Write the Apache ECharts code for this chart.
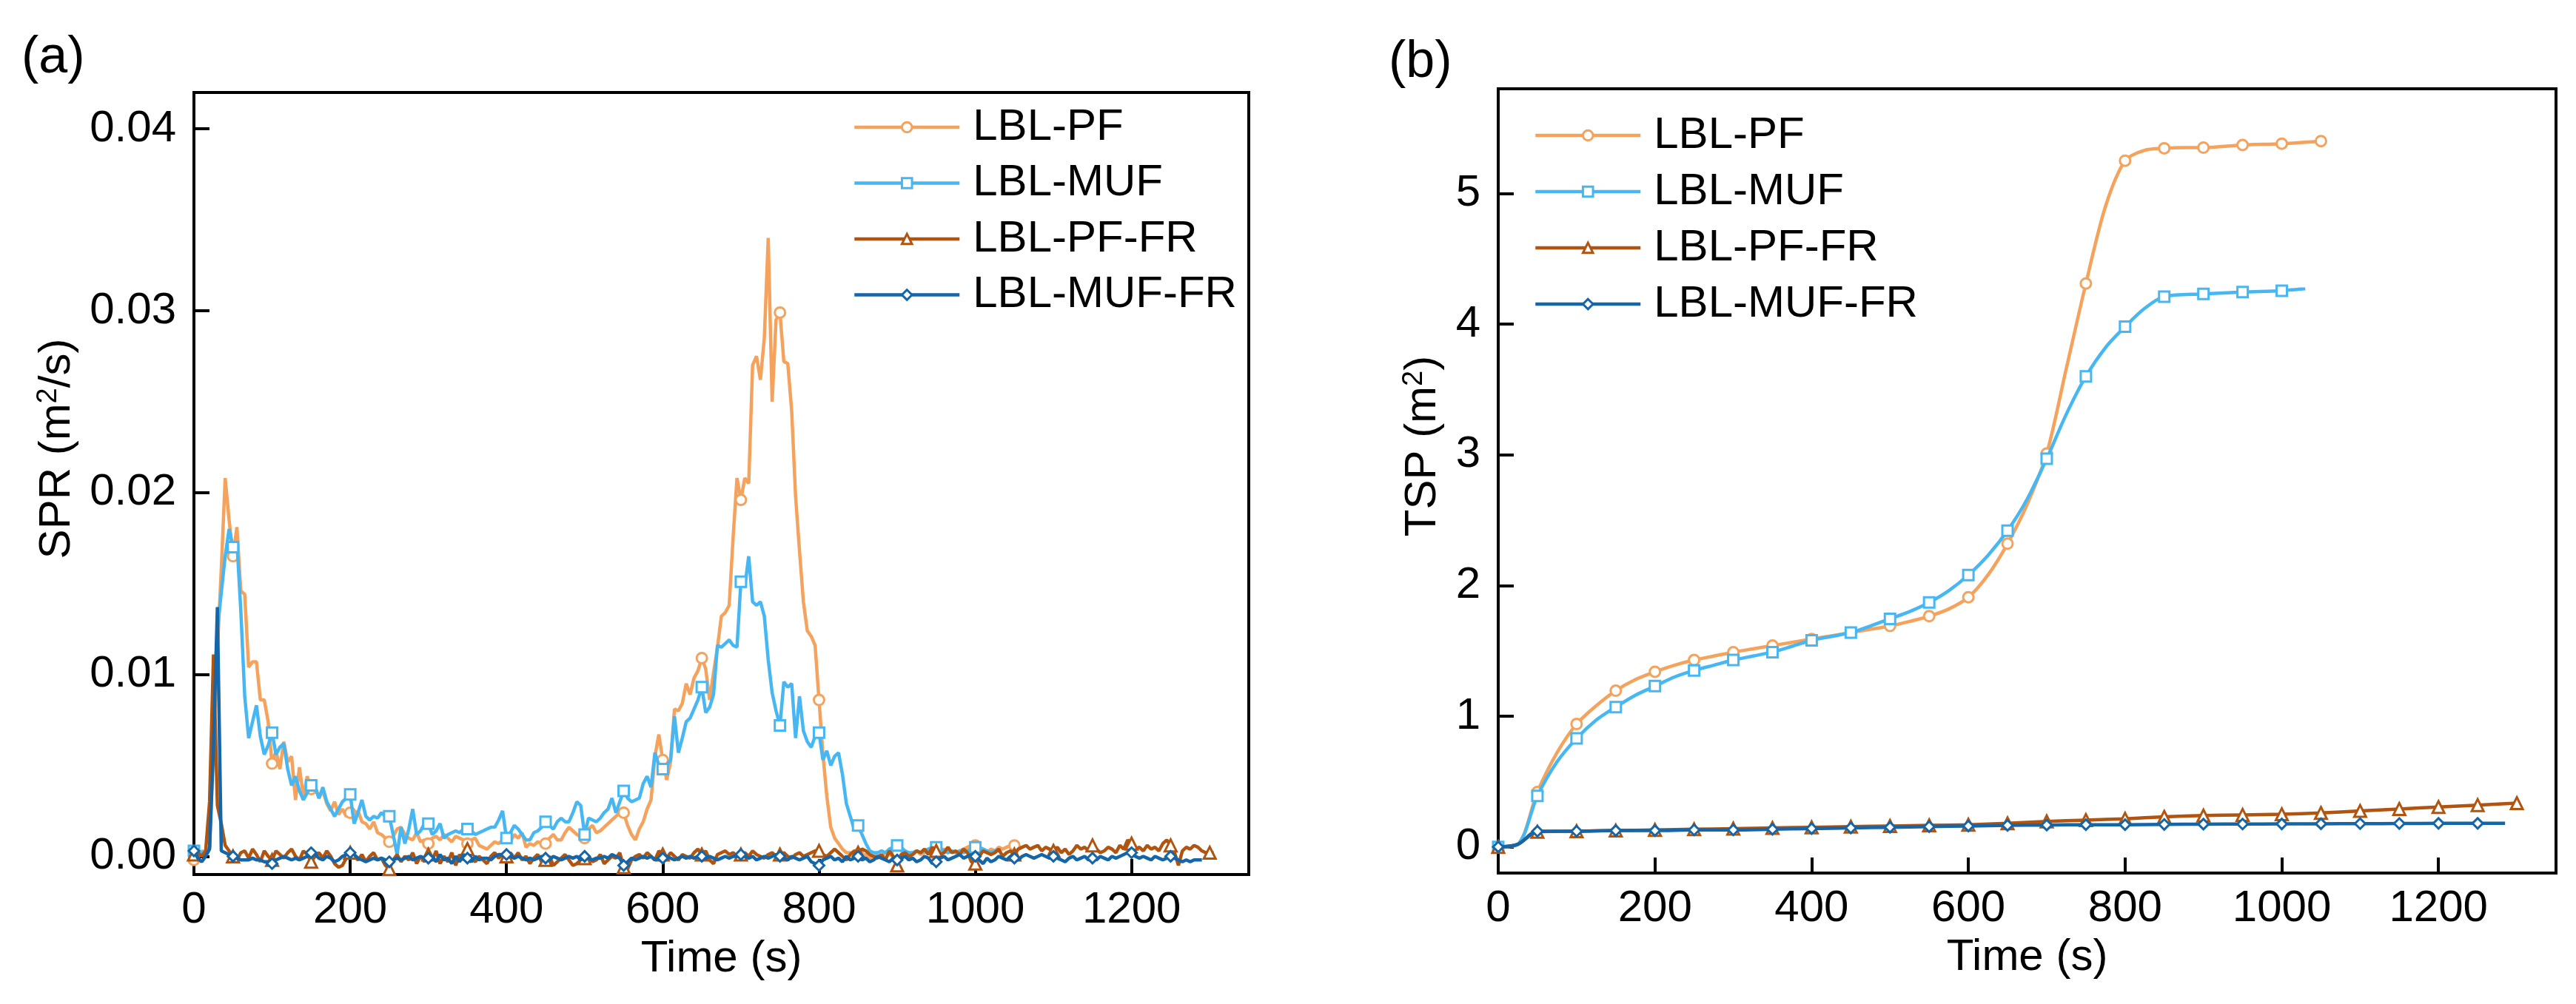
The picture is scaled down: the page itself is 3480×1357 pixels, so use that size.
<!DOCTYPE html>
<html>
<head>
<meta charset="utf-8">
<script src="https://cdn.jsdelivr.net/npm/echarts@6/dist/echarts.min.js"></script>
<style>html,body{margin:0;padding:0;background:#fff}#c{width:3480px;height:1357px}</style>
</head>
<body>
<div id="c"></div>
<script>
// ---------- names / styles ----------
const seriesNames = ['LBL-PF', 'LBL-MUF', 'LBL-PF-FR', 'LBL-MUF-FR'];
const seriesColors = ['#F5A25D', '#47B7F3', '#B1540F', '#1565A9'];
const seriesSymbols = ['circle', 'rect', 'triangle', 'diamond'];

// ---------- axis ticks ----------
const timeTicks = [0, 200, 400, 600, 800, 1000, 1200];
const sprTicks = [0, 0.01, 0.02, 0.03, 0.04];
const tspTicks = [0, 1, 2, 3, 4, 5];

// ---------- panel (a): SPR, values in 10^-3 m2/s, sampled every 5 s from t = 0 ----------
const sprStep = 5;          // s
const sprUnit = 0.001;      // m2/s per stored unit
const sprPF = [
  -0.2,0.1,0.3,0.2,0.5,6.0,11.3,15.8,20.8,18.5,
  16.5,18.1,14.6,14.4,10.4,10.7,10.7,8.6,8.6,7.4,
  5.1,5.8,4.8,6.3,5.2,5.5,3.1,4.9,3.3,4.4,
  3.7,3.9,3.2,3.6,2.9,2.5,3.0,2.3,2.6,2.2,
  2.4,2.0,2.5,1.9,1.8,1.5,1.9,1.3,1.2,1.0,
  0.8,1.1,1.5,1.6,1.2,1.0,0.9,1.3,0.8,0.9,
  0.7,1.0,1.1,0.9,1.2,1.0,0.8,1.1,1.0,0.9,
  0.7,0.9,1.0,0.6,0.5,0.4,0.6,0.8,0.7,0.9,
  1.0,0.8,1.2,1.0,1.3,0.5,0.7,0.6,0.8,0.7,
  0.7,1.0,1.2,0.9,0.9,1.3,1.6,1.4,1.2,1.1,
  1.0,1.5,1.7,1.3,1.4,1.6,1.8,2.0,2.2,2.4,
  2.4,1.7,1.2,0.9,1.5,1.9,2.6,3.1,5.5,6.7,
  5.3,4.2,5.2,8.1,8.0,8.4,9.5,8.9,9.8,10.2,
  10.9,10.3,8.6,10.1,11.5,13.2,13.4,13.8,17.5,20.8,
  19.6,20.8,20.5,27.0,27.5,26.2,28.5,34.0,25.0,29.5,
  29.9,27.2,27.1,24.5,19.8,16.8,14.0,12.4,12.1,11.6,
  8.6,5.6,3.3,1.6,1.0,0.7,0.4,0.2,0.2,0.1,
  0.1,0.0,0.1,-0.1,0.0,0.1,0.0,0.2,0.1,0.0,
  0.1,0.2,0.0,0.1,0.2,0.3,0.1,0.2,0.3,0.2,
  0.1,0.3,0.4,0.2,0.3,0.2,0.3,0.4,0.5,0.6,
  0.6,0.5,0.3,0.2,0.4,0.3,0.5,0.4,0.5,0.6,
  0.6
];
const sprMUF = [
  0.3,0.1,0.2,0.3,0.5,8.2,12.5,14.5,16.5,18.0,
  17.0,17.3,13.5,8.8,6.5,7.4,8.3,6.6,5.6,6.1,
  6.8,5.6,6.0,6.2,4.8,3.9,4.4,3.6,3.1,3.5,
  3.9,3.8,3.2,3.8,3.0,2.6,2.2,2.6,3.0,3.2,
  3.4,1.8,2.4,3.1,2.2,2.0,2.2,2.1,2.4,2.2,
  2.2,1.2,0.1,1.6,0.7,1.5,2.6,1.2,1.4,1.8,
  1.8,1.2,1.4,1.8,1.0,1.2,1.3,1.4,1.3,1.5,
  1.5,1.4,1.2,1.3,1.4,1.5,1.6,1.6,2.0,2.5,
  1.0,1.3,1.7,1.5,1.2,0.9,0.9,1.3,1.4,1.6,
  1.9,1.7,1.5,1.9,2.1,1.9,1.9,2.4,3.0,2.8,
  1.2,2.1,2.0,1.9,2.1,2.4,2.6,3.2,2.4,3.0,
  3.6,3.2,3.0,3.1,3.2,4.0,4.4,3.8,5.7,5.0,
  4.8,5.0,5.3,7.7,5.7,6.5,7.4,7.6,8.1,8.6,
  9.3,7.9,8.2,8.9,11.6,11.5,11.7,11.9,11.6,11.5,
  15.1,14.8,16.5,14.0,13.8,14.0,13.2,10.8,9.0,8.0,
  7.2,9.6,9.3,9.5,6.5,8.8,6.9,6.3,6.0,6.6,
  6.8,5.3,5.8,5.0,5.5,5.7,4.5,2.9,2.2,1.5,
  1.7,1.2,0.7,0.3,0.2,0.2,0.3,0.2,0.4,0.5,
  0.6,0.5,0.3,0.2,0.2,0.3,0.2,0.3,0.4,0.5,
  0.5,0.4,0.3,0.2,0.3,0.2,0.3,0.2,0.3,0.4,
  0.5,0.5,0.4,0.3,0.2,0.3,0.3
];
const sprPFFR = [
  0.1,0.2,0.0,0.3,3.0,11.1,2.8,1.8,0.6,0.3,
  0.0,-0.2,0.2,0.3,-0.1,0.4,0.1,-0.3,0.3,0.0,
  -0.2,0.3,0.1,-0.1,0.2,0.4,0.0,-0.2,0.3,0.1,
  -0.3,0.0,0.2,-0.1,0.3,0.0,-0.4,-0.6,-0.5,-0.1,
  0.2,0.0,-0.2,0.1,-0.3,0.0,0.2,-0.2,-0.1,-0.5,
  -0.7,-0.2,0.1,-0.3,0.0,-0.2,0.2,-0.4,0.0,-0.3,
  0.1,-0.2,0.3,-0.4,0.0,-0.3,0.2,-0.5,0.1,-0.2,
  0.4,-0.1,-0.3,0.0,-0.2,-0.4,0.0,0.2,-0.1,0.1,
  0.0,0.2,-0.1,0.2,-0.2,0.0,-0.4,-0.1,0.1,-0.3,
  -0.2,0.0,-0.5,-0.3,-0.1,0.1,-0.2,-0.5,-0.4,-0.2,
  -0.1,0.0,-0.3,-0.2,0.1,-0.4,-0.2,0.0,-0.1,0.2,
  -0.6,-0.7,-0.2,0.0,0.1,-0.1,0.2,0.0,-0.2,0.3,
  0.1,-0.1,0.2,0.0,-0.2,0.1,0.0,-0.1,0.2,0.4,
  0.1,0.3,-0.2,-0.4,0.1,0.2,0.3,0.1,0.2,0.0,
  0.1,0.2,0.0,0.3,0.1,0.0,-0.1,0.1,0.2,0.0,
  0.1,0.2,0.0,-0.1,0.1,0.2,0.0,0.1,0.2,0.3,
  0.3,0.1,0.0,0.2,0.4,0.2,0.0,-0.2,0.1,0.3,
  0.2,0.4,0.3,0.1,0.0,-0.1,0.1,-0.2,0.3,0.0,
  -0.5,0.1,0.2,0.0,0.1,0.3,0.2,0.4,0.1,0.5,
  0.3,0.1,0.2,0.5,0.2,0.3,0.1,0.4,0.2,-0.3,
  -0.4,0.0,0.3,0.2,0.1,0.2,0.4,0.0,0.2,0.3,
  0.1,0.4,0.5,0.6,0.4,0.5,0.6,0.3,0.5,0.4,
  0.3,0.5,0.2,0.4,0.1,0.3,0.6,0.4,0.5,0.3,
  0.6,0.4,0.2,0.3,0.5,0.4,0.2,0.6,0.4,0.9,
  0.7,0.4,0.5,0.3,0.6,0.4,0.5,0.3,0.7,0.9,
  0.6,0.2,-0.5,0.3,0.5,0.4,0.6,0.5,0.3,0.2,
  0.2,0.2
];
const sprMUFFR = [
  0.3,-0.1,-0.3,0.0,0.4,6.0,13.7,0.3,0.2,0.1,
  0.0,-0.1,-0.2,-0.2,-0.2,-0.1,-0.2,-0.2,-0.3,-0.3,
  -0.4,-0.2,-0.1,0.0,-0.1,-0.2,-0.1,-0.2,-0.1,0.0,
  0.2,0.1,-0.1,-0.2,0.0,-0.1,-0.3,-0.2,0.0,0.1,
  0.2,0.1,-0.1,-0.2,-0.3,-0.2,-0.1,-0.2,-0.1,-0.2,
  -0.3,-0.2,-0.1,-0.2,-0.1,0.0,-0.2,-0.1,0.0,-0.1,
  -0.1,0.0,-0.3,0.1,-0.2,-0.1,-0.4,0.0,-0.3,0.1,
  -0.1,-0.3,0.0,-0.2,-0.1,-0.1,-0.2,0.0,0.1,0.1,
  0.1,0.0,-0.1,0.0,-0.1,-0.2,-0.1,-0.2,-0.1,0.0,
  -0.1,-0.2,0.0,-0.1,-0.2,-0.1,0.0,-0.1,0.0,-0.2,
  0.0,-0.1,-0.2,-0.1,-0.1,0.0,-0.1,0.1,0.0,-0.1,
  -0.5,-0.3,-0.1,-0.2,-0.1,0.0,-0.1,0.0,-0.2,-0.1,
  -0.1,0.0,-0.1,-0.2,-0.1,0.0,-0.1,0.0,-0.1,0.0,
  0.0,-0.1,0.0,-0.1,-0.2,-0.1,0.0,-0.1,0.0,0.0,
  0.1,0.0,-0.1,0.0,-0.2,-0.1,0.0,-0.1,0.0,0.1,
  0.0,-0.1,-0.2,0.0,-0.1,-0.2,-0.1,0.0,-0.3,-0.4,
  -0.5,-0.2,-0.1,0.0,-0.2,-0.1,-0.3,0.0,-0.2,-0.1,
  0.0,-0.2,-0.1,-0.3,-0.2,0.0,-0.1,-0.2,-0.3,-0.1,
  -0.2,-0.1,0.0,-0.2,-0.1,-0.3,-0.2,0.0,-0.1,-0.4,
  -0.3,-0.1,0.0,-0.2,-0.1,0.0,0.1,-0.1,0.0,0.1,
  0.0,-0.2,-0.4,-0.1,-0.3,-0.2,0.0,-0.1,-0.2,0.0,
  -0.1,-0.2,0.0,0.1,0.0,-0.1,0.0,0.1,0.0,-0.1,
  0.0,-0.1,-0.2,-0.3,-0.1,0.0,-0.2,-0.1,0.0,-0.2,
  -0.1,-0.2,0.0,-0.1,-0.2,0.0,-0.1,0.0,0.1,0.2,
  0.2,0.0,-0.1,0.0,-0.1,-0.2,0.0,-0.1,-0.2,-0.1,
  0.0,-0.1,-0.2,-0.3,-0.2,-0.3,-0.2,-0.2,-0.2
];

// ---------- panel (b): TSP (m2) ----------
const tspTimePF = [0,25,50,75,100,125,150,175,200,225,250,275,300,325,350,375,400,425,450,475,500,525,550,575,600,625,650,675,700,725,750,775,800,825,850,875,900,950,1000,1050];
const tspPF = [0,0.02,0.42,0.72,0.94,1.08,1.195,1.28,1.34,1.39,1.43,1.46,1.49,1.515,1.54,1.565,1.59,1.615,1.64,1.665,1.69,1.725,1.765,1.82,1.91,2.08,2.32,2.62,3.01,3.66,4.31,4.90,5.25,5.33,5.345,5.35,5.35,5.37,5.38,5.40];
const tspTimeMUF = [0,25,50,75,100,125,150,175,200,225,250,275,300,325,350,375,400,425,450,475,500,525,550,575,600,625,650,675,700,725,750,775,800,825,850,900,950,1000,1030];
const tspMUF = [0,0.02,0.39,0.65,0.83,0.97,1.07,1.16,1.23,1.30,1.35,1.39,1.43,1.46,1.49,1.535,1.58,1.61,1.64,1.69,1.745,1.80,1.87,1.96,2.08,2.23,2.42,2.66,2.97,3.31,3.60,3.82,3.98,4.12,4.21,4.23,4.245,4.255,4.27];
const tspTimePFFR = [0,25,50,100,150,200,250,300,350,400,450,500,550,600,650,700,750,800,850,900,950,1000,1050,1100,1150,1200,1250,1300];
const tspPFFR = [0,0.02,0.115,0.12,0.125,0.13,0.135,0.14,0.145,0.15,0.155,0.16,0.165,0.17,0.18,0.195,0.205,0.215,0.23,0.24,0.245,0.25,0.26,0.275,0.29,0.305,0.32,0.335];
const tspTimeMUFFR = [0,25,50,100,150,200,250,300,350,400,450,500,550,600,650,700,750,800,850,900,950,1000,1050,1100,1150,1200,1250,1285];
const tspMUFFR = [0,0.02,0.12,0.12,0.125,0.125,0.13,0.13,0.135,0.14,0.145,0.15,0.155,0.16,0.165,0.167,0.17,0.17,0.172,0.174,0.175,0.176,0.177,0.178,0.179,0.18,0.18,0.18];

// ---------- helpers ----------
const FONT = '"Liberation Sans", Arial, Helvetica, sans-serif';
const markEvery = 50; // s, a marker is shown on every 50 s sample
const LINE_W = 4.5;

function withMarkers(times, values, scale) {
  return values.map((v, i) => {
    const t = times[i];
    const item = { value: [t, v * scale] };
    if (t % markEvery !== 0) item.symbol = 'none';
    return item;
  });
}
const sprTimes = (arr) => arr.map((_, i) => i * sprStep);

function makeLine(idx, data, axisIndex, smooth) {
  return {
    name: seriesNames[idx],
    type: 'line',
    xAxisIndex: axisIndex,
    yAxisIndex: axisIndex,
    data: data,
    symbol: seriesSymbols[idx],
    symbolSize: idx === 2 ? 16 : 14,
    showAllSymbol: true,
    smooth: smooth,
    lineStyle: { color: seriesColors[idx], width: LINE_W },
    itemStyle: { color: '#ffffff', borderColor: seriesColors[idx], borderWidth: 3 },
    emphasis: { disabled: true },
    z: 2 + idx
  };
}

function xAxisCfg(gridIndex) {
  return {
    gridIndex: gridIndex, type: 'value', min: 0, max: 1350,
    name: 'Time (s)', nameLocation: 'middle', nameGap: 84,
    nameTextStyle: { fontSize: 60, fontFamily: FONT, color: '#000' },
    axisLine: { show: true, onZero: false, lineStyle: { color: '#000', width: 4 } },
    axisTick: { show: true, inside: true, length: 21, customValues: timeTicks, lineStyle: { color: '#000', width: 4 } },
    axisLabel: { customValues: timeTicks, fontSize: 60, fontFamily: FONT, color: '#000', margin: 18, formatter: (v) => String(v) },
    splitLine: { show: false }
  };
}

function yAxisCfg(gridIndex, min, max, ticks, name, gap, fmt) {
  return {
    gridIndex: gridIndex, type: 'value', min: min, max: max,
    name: name, nameLocation: 'middle', nameGap: gap,
    nameTextStyle: {
      fontSize: 60, fontFamily: FONT, color: '#000', lineHeight: 60,
      padding: [0, 0, 0, 94],
      rich: { sup: { fontSize: 38, fontFamily: FONT, color: '#000', lineHeight: 60, verticalAlign: 'top', padding: [0, 0, 22, 0] } }
    },
    axisLine: { show: true, onZero: false, lineStyle: { color: '#000', width: 4 } },
    axisTick: { show: true, inside: true, length: 21, customValues: ticks, lineStyle: { color: '#000', width: 4 } },
    axisLabel: { customValues: ticks, fontSize: 60, fontFamily: FONT, color: '#000', margin: 24, formatter: fmt },
    splitLine: { show: false }
  };
}

function legendCfg(left, top, gap) {
  return {
    orient: 'vertical', left: left, top: top, padding: 0,
    itemWidth: 142, itemHeight: 17, itemGap: gap,
    selectedMode: false,
    data: seriesNames,
    lineStyle: { width: LINE_W },
    itemStyle: { borderWidth: 3 },
    textStyle: { fontSize: 60, fontFamily: FONT, color: '#000', lineHeight: 60, padding: [0, 0, 0, 13] }
  };
}

// ---------- chart ----------
const chart = echarts.init(document.getElementById('c'), null, { renderer: 'canvas' });

const series = [
  makeLine(0, withMarkers(sprTimes(sprPF), sprPF, sprUnit), 0, false),
  makeLine(1, withMarkers(sprTimes(sprMUF), sprMUF, sprUnit), 0, false),
  makeLine(2, withMarkers(sprTimes(sprPFFR), sprPFFR, sprUnit), 0, false),
  makeLine(3, withMarkers(sprTimes(sprMUFFR), sprMUFFR, sprUnit), 0, false),
  makeLine(0, withMarkers(tspTimePF, tspPF, 1), 1, 0.3),
  makeLine(1, withMarkers(tspTimeMUF, tspMUF, 1), 1, 0.3),
  makeLine(2, withMarkers(tspTimePFFR, tspPFFR, 1), 1, 0.3),
  makeLine(3, withMarkers(tspTimeMUFFR, tspMUFFR, 1), 1, 0.3)
];

chart.setOption({
  animation: false,
  backgroundColor: '#ffffff',
  grid: [
    { left: 262, top: 125, width: 1425, height: 1057, show: true, borderColor: '#000', borderWidth: 4, backgroundColor: 'transparent' },
    { left: 2024, top: 120, width: 1429, height: 1060, show: true, borderColor: '#000', borderWidth: 4, backgroundColor: 'transparent' }
  ],
  xAxis: [xAxisCfg(0), xAxisCfg(1)],
  yAxis: [
    yAxisCfg(0, -0.001, 0.042, sprTicks, 'SPR (m{sup|2}/s)', 155, (v) => v.toFixed(2)),
    yAxisCfg(1, -0.2, 5.8, tspTicks, 'TSP (m{sup|2})', 72, (v) => String(Math.round(v)))
  ],
  legend: [legendCfg(1152, 142, 15.5), legendCfg(2072, 153, 16)],
  graphic: [
    { type: 'text', left: 29, top: 44, style: { text: '(a)', font: '70px ' + FONT, fill: '#000' } },
    { type: 'text', left: 1876, top: 50, style: { text: '(b)', font: '70px ' + FONT, fill: '#000' } }
  ],
  series: series
});
</script>
</body>
</html>
